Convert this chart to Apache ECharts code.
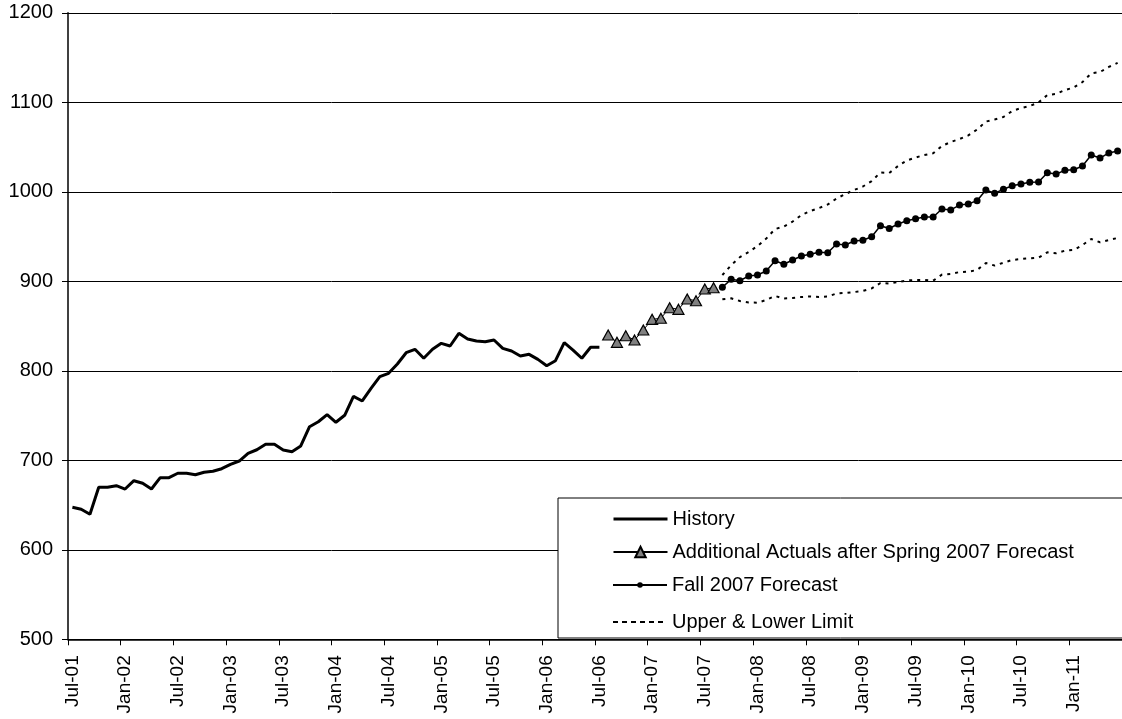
<!DOCTYPE html>
<html>
<head>
<meta charset="utf-8">
<script src="https://cdn.jsdelivr.net/npm/echarts@6/dist/echarts.min.js"></script>
<style>
html,body{margin:0;padding:0;background:#fff;}
#chart{width:1122px;height:719px;}
</style>
</head>
<body>
<div id="chart"></div>
<script>
// Categories: monthly, Jul-01 .. Jun-11
const monthNames = ['Jan','Feb','Mar','Apr','May','Jun','Jul','Aug','Sep','Oct','Nov','Dec'];
const startYear = 2001, startMonth = 6, monthCount = 120;
const categories = [];
for (let k = 0; k < monthCount; k++) {
  const m = (startMonth + k) % 12;
  const y = startYear + Math.floor((startMonth + k) / 12);
  categories.push(monthNames[m] + '-' + String(y % 100).padStart(2, '0'));
}

const yTicks = [500, 600, 700, 800, 900, 1000, 1100, 1200];

// History: Jul-01 .. Jul-06
const historyStart = 0;
const history = [647.5, 645.3, 639.7, 669.8, 669.8, 671.6, 667.9, 677.2, 674.3, 667.9,
  680.6, 680.6, 685.5, 685.5, 683.9, 686.6, 687.7, 690.6, 695.5, 699.2,
  707.8, 711.8, 717.9, 717.9, 711.5, 709.6, 716.0, 737.5, 743.1, 751.0,
  742.5, 750.3, 771.5, 766.3, 780.4, 793.4, 797.2, 807.6, 820.2, 824.0,
  814.0, 824.0, 830.7, 827.7, 841.9, 835.5, 833.3, 832.5, 834.4, 825.1,
  822.1, 816.5, 818.4, 812.8, 805.7, 811.3, 831.4, 823.2, 814.0, 826.3, 826.3];

// Additional actuals after Spring 2007 forecast: Aug-06 .. Aug-07
const actualsStart = 61;
const actuals = [840.0, 831.8, 839.2, 834.4, 845.6, 857.5, 858.7, 870.5, 868.7, 880.2, 878.3, 891.4, 892.8];

// Fall 2007 forecast and limits: Sep-07 .. Jun-11
const forecastStart = 74;
const forecast = [893.3, 902.2, 900.7, 905.9, 907.0, 911.5, 923.0, 919.0, 923.8, 928.3,
  930.2, 932.4, 932.0, 941.7, 940.6, 945.0, 945.8, 949.8, 962.1, 959.0,
  964.0, 967.7, 969.9, 971.8, 971.8, 980.8, 979.7, 985.2, 986.3, 990.1,
  1002.0, 998.3, 1002.8, 1006.8, 1008.7, 1010.6, 1011.0, 1021.3, 1019.9, 1024.0,
  1024.7, 1028.8, 1041.1, 1037.7, 1043.4, 1045.5];
const upper = [907, 918, 927, 932.7, 939.4, 947.8, 958.4, 961.2, 966.8, 974,
  978.5, 981.9, 985.8, 992.5, 997.5, 1002, 1005.9, 1012, 1021.6, 1021,
  1028.8, 1035, 1038.3, 1041.1, 1043, 1051.2, 1055.6, 1059, 1063, 1069.6,
  1078.5, 1080.7, 1083.6, 1090.3, 1093.6, 1095.9, 1099.8, 1108.2, 1109.3, 1113.7,
  1116.5, 1122.6, 1132.4, 1133.9, 1139.5, 1144];
const lower = [880, 881, 878, 876.3, 876.1, 879.1, 883.6, 880.8, 881.3, 882.5,
  883, 882.5, 883, 886.4, 887, 888, 889.2, 892, 898.1, 897.5,
  899.2, 900.9, 901.5, 901.5, 900.7, 907.5, 908.2, 910.3, 910.7, 912.6,
  920.4, 917.6, 920.8, 923.8, 924.9, 925.7, 926.4, 932.4, 931.3, 934.2,
  935, 940.6, 947.3, 943.6, 946.1, 948.4];

const NAME_HIST = 'History';
const NAME_ACT = 'Additional Actuals after Spring 2007 Forecast';
const NAME_FC = 'Fall 2007 Forecast';
const NAME_LIM = 'Upper & Lower Limit';

function pad(values, start) {
  const out = new Array(categories.length).fill(null);
  values.forEach((v, i) => { out[start + i] = v; });
  return out;
}

const FONT = 'Liberation Sans, Arial, sans-serif';
const legendText = {fontSize: 20, lineHeight: 20, color: '#000', fontFamily: FONT};
const chart = echarts.init(document.getElementById('chart'), null, {renderer: 'canvas'});
chart.setOption({
  animation: false,
  backgroundColor: '#fff',
  textStyle: {fontFamily: FONT, color: '#000'},
  grid: {left: 68, right: -6, top: 12.8, bottom: 79.7, containLabel: false},
  xAxis: {
    type: 'category',
    data: categories,
    boundaryGap: true,
    axisLine: {lineStyle: {color: '#000', width: 1.5}},
    axisTick: {show: true, interval: 5, length: 6, lineStyle: {color: '#000', width: 1}},
    axisLabel: {interval: 5, rotate: 90, margin: 16, fontSize: 19, color: '#000', fontFamily: FONT},
    splitLine: {show: false}
  },
  yAxis: {
    type: 'value',
    min: yTicks[0], max: yTicks[yTicks.length - 1], interval: 100,
    axisLine: {show: true, lineStyle: {color: '#000', width: 1.5}},
    axisTick: {show: true, length: 6, lineStyle: {color: '#000'}},
    axisLabel: {margin: 15, fontSize: 20, color: '#000', fontFamily: FONT, formatter: v => String(v)},
    splitLine: {show: true, lineStyle: {color: '#000', width: 1}}
  },
  legend: [
    {
      orient: 'vertical',
      left: 558, top: 498,
      padding: [11, 120, 76, 54],
      itemWidth: 54, itemHeight: 13, itemGap: 13,
      backgroundColor: '#fff',
      borderColor: '#000', borderWidth: 1, borderRadius: 0,
      textStyle: legendText,
      selectedMode: false,
      data: [
        {name: NAME_HIST, itemStyle: {opacity: 0}, lineStyle: {width: 3, color: '#000'}},
        {name: NAME_ACT, lineStyle: {width: 2, color: '#000'}}
      ]
    },
    {
      orient: 'vertical',
      left: 612, top: 575,
      padding: 0,
      itemWidth: 54, itemHeight: 7, itemGap: 17,
      textStyle: legendText,
      selectedMode: false,
      data: [
        {name: NAME_FC, lineStyle: {width: 2, color: '#000'}},
        {name: NAME_LIM, itemStyle: {opacity: 0}, lineStyle: {width: 1.8, color: '#000', type: [5, 4]}}
      ]
    }
  ],
  series: [
    {
      name: NAME_HIST, type: 'line', data: pad(history, historyStart),
      symbol: 'none', lineStyle: {color: '#000', width: 3}, itemStyle: {color: '#000'}, z: 3
    },
    {
      name: NAME_LIM, type: 'line', data: pad(upper, forecastStart),
      symbol: 'none', lineStyle: {color: '#000', width: 2, type: [3, 5]}, itemStyle: {color: '#000'}
    },
    {
      name: NAME_LIM, type: 'line', data: pad(lower, forecastStart),
      symbol: 'none', lineStyle: {color: '#000', width: 2, type: [3, 5]}, itemStyle: {color: '#000'}
    },
    {
      name: NAME_FC, type: 'line', data: pad(forecast, forecastStart),
      symbol: 'circle', symbolSize: 7, showAllSymbol: true,
      lineStyle: {color: '#000', width: 1.5}, itemStyle: {color: '#000'}, z: 4
    },
    {
      name: NAME_ACT, type: 'line', data: pad(actuals, actualsStart),
      symbol: 'triangle', symbolSize: [11, 10], showAllSymbol: true,
      lineStyle: {color: '#000', width: 1}, itemStyle: {color: '#808080', borderColor: '#000', borderWidth: 1.2}, z: 5
    }
  ]
});
</script>
</body>
</html>
